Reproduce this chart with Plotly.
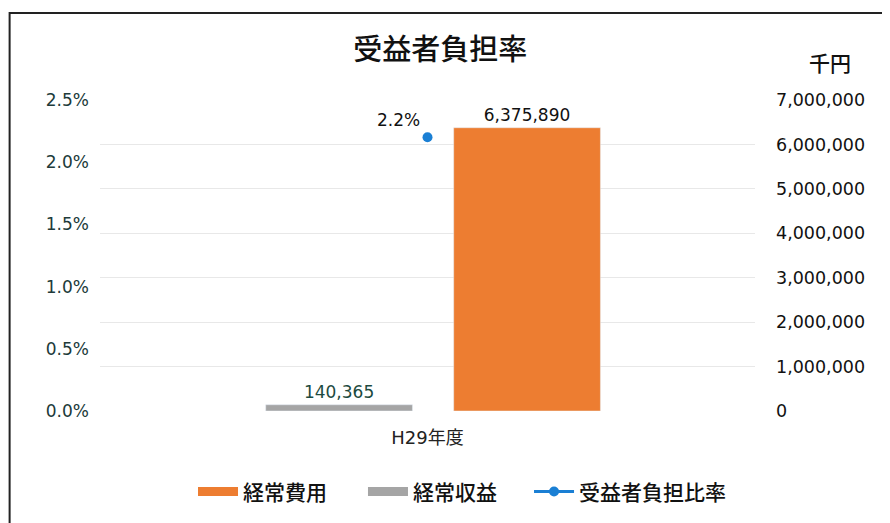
import plotly.graph_objects as go

categories = ["H29年度"]
expense = [6375890]      # 経常費用 (千円)
revenue = [140365]       # 経常収益 (千円)
ratio = [0.022]          # 受益者負担比率

left_ticks = [0, 0.005, 0.01, 0.015, 0.02, 0.025]
right_ticks = [0, 1000000, 2000000, 3000000, 4000000, 5000000, 6000000, 7000000]

CJK = "Noto Sans CJK JP"
NUM = "DejaVu Sans, Noto Sans CJK JP"
ORANGE = "#ed7d31"
GRAY = "#a5a5a5"
BLUE = "#1a7fd4"

fig = go.Figure()
fig.add_trace(go.Bar(
    name="経常費用", x=categories, y=expense, yaxis="y2",
    marker=dict(color=ORANGE), width=0.224, offset=0.04,
    text=[f"{v:,}" for v in expense], textposition="outside",
    textfont=dict(size=17, color="#111111", family=NUM),
    cliponaxis=False, showlegend=False,
))
fig.add_trace(go.Bar(
    name="経常収益", x=categories, y=revenue, yaxis="y2",
    marker=dict(color=GRAY), width=0.224, offset=-0.247,
    text=[f"{v:,}" for v in revenue], textposition="outside",
    textfont=dict(size=17, color="#1d4a40", family=NUM),
    cliponaxis=False, showlegend=False,
))
fig.add_trace(go.Scatter(
    name="受益者負担比率", x=categories, y=ratio, yaxis="y",
    mode="lines+markers+text",
    line=dict(color=BLUE, width=3),
    marker=dict(color=BLUE, size=10),
    text=[f"{v*100:.1f}%" for v in ratio], textposition="top left",
    textfont=dict(size=17, color="#111111", family=NUM),
    cliponaxis=False, showlegend=False,
))

# legend entries (wide swatches like the original), one legend box each
fig.add_trace(go.Scatter(name="経常費用", x=[None], y=[None], mode="lines",
                         line=dict(color=ORANGE, width=9), legend="legend"))
fig.add_trace(go.Scatter(name="経常収益", x=[None], y=[None], mode="lines",
                         line=dict(color=GRAY, width=9), legend="legend2"))
fig.add_trace(go.Scatter(name="受益者負担比率", x=[None], y=[None], mode="lines+markers",
                         line=dict(color=BLUE, width=3), marker=dict(color=BLUE, size=10),
                         legend="legend3"))

LEG_FONT = dict(size=21, color="#111111", family=CJK, weight=500)

def leg(x):
    return dict(orientation="h", x=x, xanchor="left", y=-0.256, yanchor="middle",
                font=LEG_FONT, itemwidth=40, bgcolor="rgba(0,0,0,0)")

fig.update_layout(
    width=882, height=515,
    margin=dict(l=92, r=135, t=92, b=111),
    paper_bgcolor="white", plot_bgcolor="white",
    font=dict(family=CJK, color="#222222"),
    title=dict(text="受益者負担率", x=0.49, xanchor="center", y=0.918, yanchor="middle",
               font=dict(size=29, color="#111111", family=CJK, weight=500)),
    barmode="overlay",
    xaxis=dict(range=[-0.5, 0.5], showgrid=False, showline=False, zeroline=False,
               tickfont=dict(size=18, color="#222222", family=NUM), ticks="",
               ticklabelstandoff=14),
    yaxis=dict(range=[0, 0.025], tickvals=left_ticks, tickformat=".1%",
               showgrid=False, zeroline=False, showline=False,
               tickfont=dict(size=17, color="#203a3a", family=NUM), ticklabelstandoff=10),
    yaxis2=dict(range=[0, 7000000], tickvals=right_ticks, tickformat=",",
                overlaying="y", side="right", showgrid=True, gridcolor="#e8e8e8",
                zeroline=False, showline=False,
                tickfont=dict(size=17.5, color="#111111", family=NUM), ticklabelstandoff=20),
    legend=leg(0.142),
    legend2=leg(0.4015),
    legend3=leg(0.655),
    showlegend=True,
)

fig.add_annotation(text="千円", xref="paper", yref="paper", x=1.1145, y=1.122,
                   xanchor="center", yanchor="middle",
                   showarrow=False, font=dict(size=21, color="#111111", family=CJK, weight=500))

# chart frame
fig.add_shape(type="rect", xref="paper", yref="paper",
              x0=-0.138, x1=1.4, y0=-0.6, y1=1.28,
              line=dict(color="#222222", width=2), fillcolor="rgba(0,0,0,0)", layer="above")

fig.write_html("out.html")
